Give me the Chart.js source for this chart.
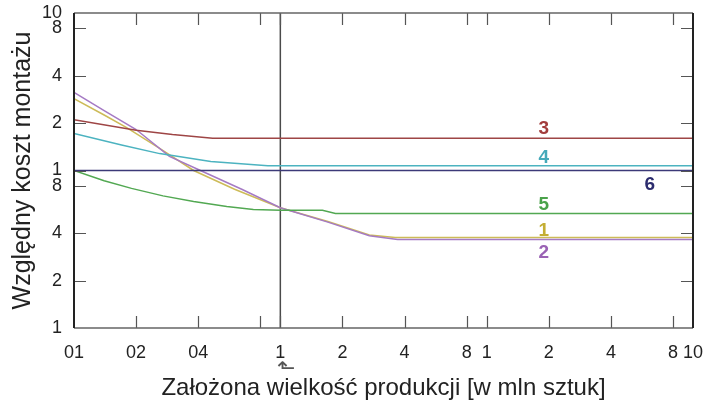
<!DOCTYPE html>
<html>
<head>
<meta charset="utf-8">
<script src="https://cdn.jsdelivr.net/npm/chart.js@4"></script>
<style>
  html, body { margin: 0; padding: 0; background: #fff; }
  #wrap { width: 705px; height: 404px; }
</style>
</head>
<body>
<div id="wrap"><canvas id="chart"></canvas></div>
<script>
// axis ticks (log scales, labels show only the mantissa)
const xTickValues = [0.01, 0.02, 0.04, 0.08, 0.1, 0.2, 0.4, 0.8, 1, 2, 4, 8, 10];
const xTickLabels = ["01", "02", "04", "", "1", "2", "4", "8", "1", "2", "4", "8", "10"];
const yTickValues = [0.1, 0.2, 0.4, 0.8, 1, 2, 4, 8, 10];
const yTickLabels = ["1", "2", "4", "8", "1", "2", "4", "8", "10"];

// curves: production volume (x) vs relative assembly cost (y)
const x1 = [0.01, 0.014, 0.018, 0.026, 0.038, 0.06, 0.1, 0.17, 0.27, 0.36, 10];
const y1 = [2.86, 2.25, 1.87, 1.38, 1.0, 0.76, 0.58, 0.475, 0.39, 0.375, 0.375];
const x2 = [0.01, 0.014, 0.02, 0.029, 0.041, 0.065, 0.1, 0.17, 0.27, 0.37, 10];
const y2 = [3.13, 2.4, 1.82, 1.23, 1.0, 0.76, 0.58, 0.47, 0.385, 0.365, 0.365];
const x3 = [0.01, 0.02, 0.03, 0.047, 10];
const y3 = [2.1, 1.8, 1.69, 1.6, 1.6];
const x4 = [0.01, 0.017, 0.026, 0.046, 0.087, 10];
const y4 = [1.72, 1.45, 1.28, 1.14, 1.07, 1.07];
const x5 = [0.01, 0.014, 0.019, 0.027, 0.038, 0.055, 0.074, 0.1, 0.16, 0.185, 10];
const y5 = [1.0, 0.86, 0.77, 0.69, 0.635, 0.59, 0.565, 0.56, 0.56, 0.533, 0.533];
const x6 = [0.01, 10];
const y6 = [1, 1];

// reference line at 0.1
const xRef = [0.1, 0.1];
const yRef = [0.1, 10];

// curve numbers and where they sit
const tagText = ["1", "2", "3", "4", "5", "6"];
const tagX = [1.89, 1.89, 1.89, 1.89, 1.89, 6.18];
const tagY = [0.413, 0.299, 1.83, 1.2, 0.604, 0.809];
const tagColor = ["#c4ae34", "#9a62b4", "#a23c3c", "#45a9b9", "#4aa24a", "#2c2c6e"];

const FONT = "'Liberation Sans', Arial, sans-serif";

function pts(xs, ys) {
  return xs.map((x, i) => ({ x: x, y: ys[i] }));
}

function line(xs, ys, color) {
  return {
    data: pts(xs, ys),
    borderColor: color,
    borderWidth: 1.5,
    pointRadius: 0,
    fill: false,
    showLine: true,
    tension: 0
  };
}

// frame + inward tick marks
const frame = {
  id: "frame",
  afterDatasetsDraw(chart) {
    const { ctx, chartArea: a, scales } = chart;
    ctx.save();
    ctx.strokeStyle = "#555";
    ctx.lineWidth = 1.2;
    const tl = 12;
    xTickValues.forEach(v => {
      if (v === 0.01 || v === 10) return;
      const px = Math.round(scales.x.getPixelForValue(v)) + 0.5;
      ctx.beginPath();
      ctx.moveTo(px, a.bottom); ctx.lineTo(px, a.bottom - tl);
      ctx.moveTo(px, a.top); ctx.lineTo(px, a.top + tl);
      ctx.stroke();
    });
    yTickValues.forEach(v => {
      if (v === 0.1 || v === 10) return;
      const py = Math.round(scales.y.getPixelForValue(v)) + 0.5;
      ctx.beginPath();
      ctx.moveTo(a.left, py); ctx.lineTo(a.left + tl, py);
      ctx.moveTo(a.right, py); ctx.lineTo(a.right - tl, py);
      ctx.stroke();
    });
    // top / bottom edges
    ctx.strokeStyle = "#666";
    ctx.lineWidth = 1.5;
    ctx.beginPath();
    ctx.moveTo(a.left, a.top); ctx.lineTo(a.right, a.top);
    ctx.moveTo(a.left, a.bottom); ctx.lineTo(a.right, a.bottom);
    ctx.stroke();
    // left / right edges
    ctx.strokeStyle = "#222";
    ctx.lineWidth = 2;
    ctx.beginPath();
    ctx.moveTo(a.left, a.top); ctx.lineTo(a.left, a.bottom);
    ctx.moveTo(a.right, a.top); ctx.lineTo(a.right, a.bottom);
    ctx.stroke();
    ctx.restore();
  }
};

// curve numbers and the little arrow under 0.1
const tags = {
  id: "tags",
  afterDraw(chart) {
    const { ctx, scales } = chart;
    ctx.save();
    ctx.textAlign = "center";
    ctx.textBaseline = "middle";
    ctx.font = "bold 19px " + FONT;
    tagText.forEach((t, i) => {
      ctx.fillStyle = tagColor[i];
      ctx.fillText(t, scales.x.getPixelForValue(tagX[i]), scales.y.getPixelForValue(tagY[i]));
    });
    ctx.fillStyle = "#555";
    ctx.font = "22px 'DejaVu Sans', sans-serif";
    ctx.fillText("\u2B11", scales.x.getPixelForValue(0.1) + 6, 369);
    ctx.restore();
  }
};

new Chart(document.getElementById("chart"), {
  type: "scatter",
  data: {
    datasets: [
      line(x6, y6, "#3c3a78"),
      line(x3, y3, "#9e4545"),
      line(x4, y4, "#4cb3c0"),
      line(x5, y5, "#52a852"),
      line(x2, y2, "#a57ac4"),
      line(x1, y1, "#cdbb58"),
      line(xRef, yRef, "#4a4a4a")
    ]
  },
  options: {
    responsive: true,
    maintainAspectRatio: false,
    animation: false,
    layout: { padding: { top: 13, right: 12, left: 0, bottom: 0 } },
    plugins: { legend: { display: false }, tooltip: { enabled: false } },
    scales: {
      x: {
        type: "logarithmic",
        min: 0.01,
        max: 10,
        afterBuildTicks: s => { s.ticks = xTickValues.map(v => ({ value: v })); },
        afterFit: s => { s.height = 76; s.paddingLeft = 0; s.paddingRight = 0; },
        grid: { display: false, drawTicks: false },
        border: { display: false },
        ticks: {
          autoSkip: false,
          maxRotation: 0,
          minRotation: 0,
          padding: 14,
          color: "#222",
          font: { family: FONT, size: 18 },
          callback: (v, i) => xTickLabels[i]
        },
        title: {
          display: true,
          text: "Założona wielkość produkcji [w mln sztuk]",
          color: "#222",
          font: { family: FONT, size: 24 },
          padding: { top: 0, bottom: 1 }
        }
      },
      y: {
        type: "logarithmic",
        min: 0.1,
        max: 10,
        afterBuildTicks: s => { s.ticks = yTickValues.map(v => ({ value: v })); },
        afterFit: s => { s.width = 74; s.paddingTop = 0; s.paddingBottom = 0; },
        grid: { display: false, drawTicks: false },
        border: { display: false },
        ticks: {
          autoSkip: false,
          padding: 12,
          color: "#222",
          font: { family: FONT, size: 18 },
          callback: (v, i) => yTickLabels[i]
        },
        title: {
          display: true,
          text: "Względny koszt montażu",
          color: "#222",
          font: { family: FONT, size: 25 },
          padding: { top: 8, bottom: 0 }
        }
      }
    }
  },
  plugins: [frame, tags]
});
</script>
</body>
</html>
